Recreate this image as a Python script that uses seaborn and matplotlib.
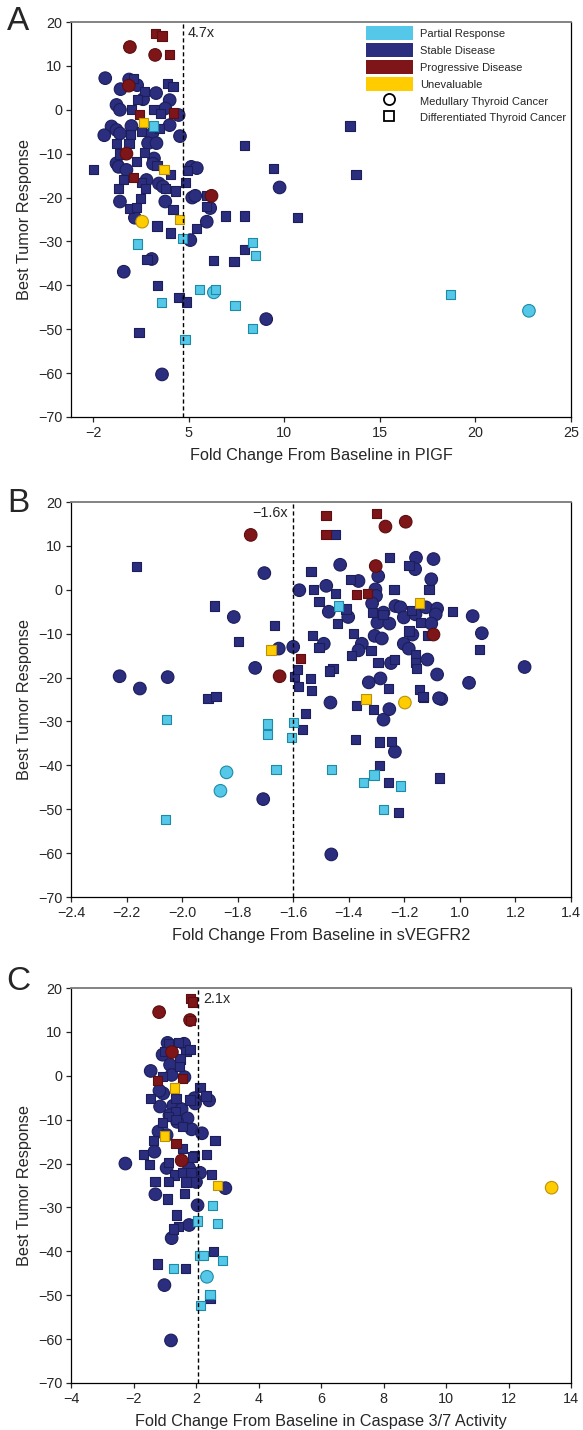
import matplotlib
matplotlib.use("Agg")
import matplotlib.pyplot as plt
from matplotlib.lines import Line2D
from matplotlib.patches import Patch
import pandas as pd
import seaborn as sns

# x values are positions on the (broken) fold-change axes; tick labels map them back
# order of points in every panel: SD-MTC, SD-DTC, PD-MTC, PD-DTC, UE-MTC, UE-DTC, PR-MTC, PR-DTC

# ---- panel A: PlGF ----
a_x = [
    0.64, 1.89, 2.31, 1.44, 3.30, 2.62, 4.01, 1.23, 1.41, 3.78, 4.48, 4.01, 2.01, 0.97, 1.23,
    0.59, 1.41, 3.10, 4.55, 2.88, 3.32, 3.19, 1.23, 3.14, 1.34, 5.14, 5.43, 1.75, 2.80, 3.45,
    3.66, 5.19, 5.35, 1.41, 3.78, 6.13, 2.19, 5.95, 5.09, 3.07, 1.61, 3.61, 9.06, 9.76,
    2.10, 2.69, 3.90, 4.18, 2.31, 2.01, 3.19, 3.54, 3.49, 1.98, 2.54, 1.23, 1.88, 2.69, 1.41,
    2.29, 3.35, 4.93, 4.06, 1.61, 2.54, 4.84, 2.74, 1.32, 3.80, 4.32, 5.92, 2.50, 5.92, 1.93,
    2.27, 4.18, 3.35, 5.40, 4.06, 6.91, 7.92, 10.68, 9.43, 7.92, 13.44, 13.75, 0.03, 2.83, 3.39,
    4.50, 4.88, 2.41, 6.30, 7.38, 7.92,
    1.93, 3.25, 1.875, 1.75, 6.2,
    3.27, 3.61, 4.01, 2.45, 4.2, 2.1,
    2.57,
    2.64, 3.71, 4.51,
    6.32, 22.8,
    3.18, 2.33, 4.67, 8.33, 8.5, 3.59, 5.57, 6.41, 7.43, 4.81, 8.33, 18.7,
]
a_y = [
    7.2, 6.9, 5.6, 4.7, 3.8, 2.4, 2.2, 1.1, 0.0, 0.3, -1.2, -3.5, -3.7, -3.8, -4.6,
    -5.8, -5.4, -5.4, -6.0, -7.6, -7.6, -11.1, -12.2, -12.3, -13.0, -13.0, -13.3, -13.7, -16.0, -16.8,
    -17.5, -20.0, -19.6, -20.9, -20.9, -22.4, -24.6, -25.5, -29.7, -34.0, -36.9, -60.3, -47.7, -17.7,
    7.2, 4.2, 6.0, 5.3, 2.4, 0.1, 0.1, -0.8, -4.2, -5.7, -5.0, -7.6, -7.6, -9.8, -10.1,
    -11.7, -12.7, -13.9, -14.7, -15.8, -16.5, -16.6, -18.0, -18.0, -18.0, -18.5, -19.6, -20.2, -22.1, -22.5,
    -22.2, -22.8, -26.5, -27.1, -28.1, -24.2, -24.2, -24.6, -13.4, -8.2, -3.7, -14.8, -13.6, -34.1, -40.0,
    -42.7, -43.8, -50.8, -34.4, -34.6, -31.8,
    14.3, 12.5, 5.5, -10.0, -19.6,
    17.4, 16.8, 12.6, -1.0, -0.75, -15.5,
    -25.5,
    -2.9, -13.6, -25.0,
    -41.6, -45.8,
    -3.7, -30.6, -29.4, -30.3, -33.2, -43.9, -41.0, -41.0, -44.6, -52.3, -49.9, -42.1,
]
a_resp = ["SD"] * 95 + ["PD"] * 11 + ["UE"] * 4 + ["PR"] * 14
a_hist = (["MTC"] * 44 + ["DTC"] * 51 + ["MTC"] * 5 + ["DTC"] * 6
          + ["MTC"] * 1 + ["DTC"] * 3 + ["MTC"] * 2 + ["DTC"] * 12)
a_ticks = [0, 5, 10, 15, 20, 25]
a_ticklabels = ["\u22122", "5", "10", "15", "20", "25"]

# ---- panel B: sVEGFR2 ----
b_x = [
    -1.708, -1.463, -1.234, -1.275, -1.254, -1.466, -1.067, -1.704, -1.578, -1.814, -1.652, -1.600,
    -1.737, -2.225, -2.152, -2.052, -1.431, -1.158, -1.161, -1.095, -1.294, -1.103, -1.365, -1.481,
    -1.304, -1.302, -1.316, -1.472, -1.402, -1.275, -1.232, -1.214, -1.202, -1.297, -1.254, -1.160,
    -1.122, -1.082, -1.087, -1.103, -0.954, -0.921, -0.767, -0.967, -1.490, -1.353, -1.365, -1.307,
    -1.281, -1.171, -1.202, -1.184, -1.117, -1.082, -1.248, -1.286, -1.328, -1.075,
    -1.567, -1.555, -1.376, -1.288, -1.245, -1.312, -1.373, -1.289, -1.257, -1.221, -1.073, -1.130,
    -1.907, -1.878, -2.163, -1.884, -1.666, -1.798, -1.596, -1.584, -1.580, -1.449, -1.536, -1.253,
    -1.183, -1.395, -1.237, -1.111, -1.528, -1.449, -1.507, -1.410, -1.442, -1.315, -1.277, -1.175,
    -1.142, -1.028, -0.930, -1.532, -1.507, -1.383, -1.389, -1.320, -1.183, -1.118, -1.160, -1.160,
    -1.157, -1.295, -1.234, -1.457, -1.469, -1.537, -1.535, -1.258, -1.145, -1.133,
    -1.753, -1.268, -1.195, -1.303, -1.095, -1.649,
    -1.482, -1.299, -1.482, -1.373, -1.332, -1.574,
    -1.198,
    -1.338, -1.680, -1.146,
    -1.840, -1.862,
    -2.056, -1.693, -1.693, -1.600, -1.605, -1.662, -1.463, -2.060, -1.346, -1.309, -1.214, -1.275, -1.437,
]
b_y = [
    -47.7, -60.3, -36.9, -29.6, -27.2, -25.7, -24.9, 3.8, -0.1, -6.2, -13.4, -13.0,
    -17.8, -19.7, -22.5, -19.9, 5.7, 7.3, 4.7, 7.0, 3.1, 2.4, 2.0, 0.9,
    0.1, -1.4, -3.1, -5.0, -6.2, -5.2, -3.7, -4.0, -6.3, -7.5, -7.7, -5.6,
    -4.0, -4.3, -5.6, -7.7, -6.0, -9.9, -17.6, -21.2, -12.3, -12.3, -13.8, -10.5,
    -11.1, -10.2, -12.3, -13.4, -15.9, -19.3, -16.7, -20.2, -21.1, -24.7,
    -31.9, -28.2, -34.2, -34.7, -34.5, -27.2, -26.3, -40.0, -43.9, -50.8, -42.9, -24.5,
    -24.7, -24.3, 5.3, -3.7, -8.2, -11.7, -19.7, -18.2, -22.1, 12.6, 4.2, 7.3,
    5.5, 2.4, 0.0, 0.0, 0.0, -0.8, -2.7, -4.4, -7.7, -5.2, -5.6, -4.7,
    -7.5, -5.0, -13.6, -10.4, -13.2, -9.9, -14.9, -13.8, -9.4, -10.5, -14.7, -16.6,
    -18.0, -16.6, -15.9, -18.0, -18.5, -20.3, -23.0, -22.5, -22.7, -24.3,
    12.5, 14.4, 15.5, 5.4, -10.2, -19.7,
    16.9, 17.4, 12.6, -1.1, -0.8, -15.6,
    -25.7,
    -24.9, -13.7, -3.0,
    -41.6, -45.8,
    -29.5, -30.6, -33.0, -30.2, -33.7, -41.0, -41.0, -52.3, -43.9, -42.2, -44.7, -50.0, -3.7,
]
b_resp = ["SD"] * 116 + ["PD"] * 12 + ["UE"] * 4 + ["PR"] * 15
b_hist = (["MTC"] * 58 + ["DTC"] * 58 + ["MTC"] * 6 + ["DTC"] * 6
          + ["MTC"] * 1 + ["DTC"] * 3 + ["MTC"] * 2 + ["DTC"] * 13)
b_ticks = [-2.4, -2.2, -2.0, -1.8, -1.6, -1.4, -1.2, -1.0, -0.8, -0.6]
b_ticklabels = ["\u22122.4", "\u22122.2", "\u22122.0", "\u22121.8", "\u22121.6",
                "\u22121.4", "\u22121.2", "1.0", "1.2", "1.4"]

# ---- panel C: caspase 3/7 ----
c_x = [
    -0.91, -0.38, -1.07, -0.83, -1.45, -0.78, -0.37, -1.05, -1.17, -0.05, -0.03, 0.42,
    -1.15, -0.73, -0.46, -0.27, -0.14, 0.19, -1.20, -0.94, -1.33, -2.26, -0.94, -0.22,
    0.13, 0.0, 0.94, -1.30, 0.05, -0.22, -0.78, -1.01, -0.80, -0.60, -0.85,
    -0.89, -0.32, -0.19, -1.01, -0.51, -0.54, -1.07, 0.13, 0.32, -1.45, -0.64, -0.19,
    -0.65, -0.89, -0.64, -1.08, -0.43, -1.37, 0.61, -0.43, -1.69, -0.05, 0.34, -1.48,
    -0.88, -0.69, -0.43, -0.16, 0.50, -1.31, -0.87, -0.32, -0.36, -0.90, -0.62, -0.55,
    -0.71, 0.56, -1.24, -0.33, 0.45, -0.57, -0.10,
    -1.18, -0.19, -0.77, -0.46,
    -0.17, -0.11, -0.17, -1.23, -0.43, -0.64,
    11.38,
    -0.68, -1.01, 0.68,
    0.35,
    0.52, 0.05, 0.68, 0.11, 0.24, 0.86, -0.73, 0.45, 0.15,
]
c_y = [
    7.5, 7.3, 4.8, 2.5, 1.1, 0.2, -0.3, -4.0, -3.4, -5.1, -6.3, -5.6,
    -7.0, -6.8, -7.6, -9.7, -12.2, -13.1, -12.7, -13.5, -17.3, -20.0, -21.0, -21.0,
    -22.1, -24.2, -25.6, -27.0, -29.5, -34.0, -37.0, -47.7, -60.3, -10.5, -9.0,
    7.3, 5.6, 6.0, 5.5, 3.8, 2.1, -0.2, -2.6, -4.6, -5.1, -5.1, -5.5,
    -8.2, -9.2, -9.9, -10.7, -11.5, -14.7, -14.7, -16.6, -17.9, -18.2, -17.9, -20.3,
    -19.7, -22.6, -22.0, -22.1, -22.5, -24.0, -24.0, -24.2, -26.9, -28.1, -31.7, -34.4,
    -34.9, -40.0, -42.9, -43.9, -50.8, 7.5, -18.5,
    14.5, 12.7, 5.4, -19.3,
    17.6, 16.8, 12.6, -1.1, -0.7, -15.4,
    -25.5,
    -2.8, -13.7, -25.0,
    -45.8,
    -29.5, -33.1, -33.7, -41.0, -41.0, -42.1, -43.9, -49.9, -52.4,
]
c_resp = ["SD"] * 78 + ["PD"] * 10 + ["UE"] * 4 + ["PR"] * 10
c_hist = (["MTC"] * 35 + ["DTC"] * 43 + ["MTC"] * 4 + ["DTC"] * 6
          + ["MTC"] * 1 + ["DTC"] * 3 + ["MTC"] * 1 + ["DTC"] * 9)
c_ticks = [-4, -2, 0, 2, 4, 6, 8, 10, 12]
c_ticklabels = ["\u22124", "\u22122", "2", "4", "6", "8", "10", "12", "14"]

resp_names = ["Partial Response", "Stable Disease", "Progressive Disease", "Unevaluable"]
resp_codes = ["PR", "SD", "PD", "UE"]

FACE = {"PR": "#55C8E9", "SD": "#2B2D7E", "PD": "#7E1518", "UE": "#FFCC00"}
EDGE = {"PR": "#1D8BA6", "SD": "#1C1E5A", "PD": "#5C0E10", "UE": "#B8920A"}
MARKERS = {"MTC": "o", "DTC": "s"}
SIZES = {"MTC": 82, "DTC": 44}

sns.set_style("ticks")
plt.rcParams["font.family"] = ["Liberation Sans", "DejaVu Sans"]


def draw_panel(ax, df, ticks, ticklabels, xlim, cut, cut_text, text_right, xlabel):
    for code in ["SD", "PD", "UE", "PR"]:
        sub = df[df["resp"] == code]
        sns.scatterplot(data=sub, x="x", y="y", style="hist", size="hist",
                        markers=MARKERS, sizes=SIZES, style_order=["MTC", "DTC"],
                        size_order=["MTC", "DTC"], color=FACE[code],
                        edgecolor=EDGE[code], linewidth=0.8, legend=False, ax=ax)
    ax.axvline(cut, color="black", linestyle=(0, (3, 2)), linewidth=1.0, zorder=1)
    span = xlim[1] - xlim[0]
    if text_right:
        ax.text(cut + span * 0.01, 17.6, cut_text, fontsize=10.4, va="center", ha="left")
    else:
        ax.text(cut - span * 0.01, 17.6, cut_text, fontsize=10.4, va="center", ha="right")
    ax.set_xlim(*xlim)
    ax.set_ylim(-70, 20)
    ax.set_xticks(ticks)
    ax.set_xticklabels(ticklabels)
    ax.set_yticks(range(-70, 21, 10))
    ax.tick_params(axis="both", direction="out", length=3.3, width=0.9, labelsize=10.4,
                   top=False, right=False, pad=3)
    for side in ["left", "bottom", "right"]:
        ax.spines[side].set_color("black")
        ax.spines[side].set_linewidth(0.9)
    ax.spines["top"].set_visible(True)
    ax.spines["right"].set_visible(True)
    ax.spines["top"].set_color("#7a7a7a")
    ax.spines["top"].set_linewidth(1.3)
    ax.set_xlabel(xlabel, fontsize=11.7, labelpad=6)
    ax.set_ylabel("Best Tumor Response", fontsize=11.7, labelpad=4)


fig = plt.figure(figsize=(5.83, 14.30), dpi=100)
left, width, height = 71 / 583, 500 / 583, 395 / 1430
ax_a = fig.add_axes([left, 1 - 417 / 1430, width, height])
ax_b = fig.add_axes([left, 1 - 897 / 1430, width, height])
ax_c = fig.add_axes([left, 1 - 1383 / 1430, width, height])

df_a = pd.DataFrame({"x": a_x, "y": a_y, "resp": a_resp, "hist": a_hist})
df_b = pd.DataFrame({"x": b_x, "y": b_y, "resp": b_resp, "hist": b_hist})
df_c = pd.DataFrame({"x": c_x, "y": c_y, "resp": c_resp, "hist": c_hist})

draw_panel(ax_a, df_a, a_ticks, a_ticklabels, (-1.15, 25), 4.7, "4.7x", True,
           "Fold Change From Baseline in PIGF")
draw_panel(ax_b, df_b, b_ticks, b_ticklabels, (-2.4, -0.6), -1.6, "\u22121.6x", False,
           "Fold Change From Baseline in sVEGFR2")
draw_panel(ax_c, df_c, c_ticks, c_ticklabels, (-4, 12), 0.07, "2.1x", True,
           "Fold Change From Baseline in Caspase 3/7 Activity")

handles = [Patch(facecolor=FACE[c], edgecolor="none", label=n) for c, n in zip(resp_codes, resp_names)]
handles.append(Line2D([], [], marker="o", linestyle="none", markerfacecolor="white",
                      markeredgecolor="black", markersize=8, markeredgewidth=1.3,
                      label="Medullary Thyroid Cancer"))
handles.append(Line2D([], [], marker="s", linestyle="none", markerfacecolor="white",
                      markeredgecolor="black", markersize=7, markeredgewidth=1.3,
                      label="Differentiated Thyroid Cancer"))
ax_a.legend(handles=handles, loc="upper right", frameon=False, fontsize=8,
            handlelength=4.2, handleheight=1.53, labelspacing=0.28, handletextpad=0.7,
            borderaxespad=0.2, borderpad=0.2)

for letter, ypix in [("A", 22), ("B", 503), ("C", 982)]:
    fig.text(18 / 583, 1 - ypix / 1430, letter, fontsize=24, ha="center", va="center")

fig.savefig("out.png", dpi=100)
